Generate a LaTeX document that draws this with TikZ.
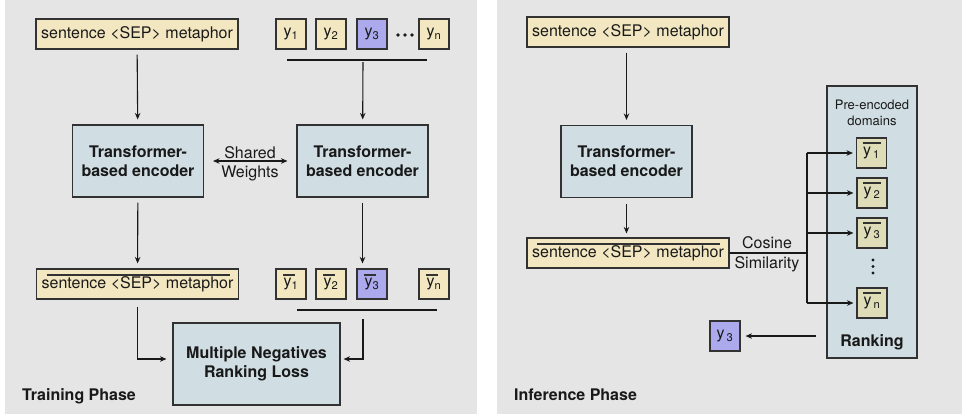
\documentclass[tikz,border=0pt]{standalone}
\usepackage{fontspec}
\setmainfont{TeX Gyre Heros}
\usetikzlibrary{arrows.meta}
\definecolor{panel}{RGB}{229,229,229}
\definecolor{beige}{RGB}{243,231,193}
\definecolor{bluegray}{RGB}{208,222,227}
\definecolor{lilac}{RGB}{172,170,236}
\definecolor{olive}{RGB}{222,221,184}
\definecolor{edge}{RGB}{50,50,50}
\definecolor{ink}{RGB}{25,25,25}
\begin{document}
\begin{tikzpicture}[x=1pt,y=-1pt,
  font=\fontsize{16}{19}\selectfont, text=ink,
  box/.style={draw=edge, line width=1.1pt, inner sep=0pt, align=center},
  textbox/.style={box, fill=beige, minimum width=202pt, minimum height=30pt},
  ybox/.style={box, fill=beige, minimum width=30pt, minimum height=30pt},
  pickbox/.style={ybox, fill=lilac},
  rbox/.style={ybox, fill=olive},
  encbox/.style={box, fill=bluegray, minimum width=131pt, minimum height=72pt, font=\fontsize{16}{19}\selectfont\bfseries},
  sbar/.style={path picture={\draw[edge, line width=1.1pt] ([xshift=10pt,yshift=-6pt]path picture bounding box.north west) -- ([xshift=-9pt,yshift=-6pt]path picture bounding box.north east);}},
  ybar/.style={path picture={\draw[edge, line width=1.1pt] ([xshift=7pt,yshift=-6pt]path picture bounding box.north west) -- ([xshift=-11pt,yshift=-6pt]path picture bounding box.north east);}},
  rbar/.style={path picture={\draw[edge, line width=1.1pt] ([xshift=6pt,yshift=-5pt]path picture bounding box.north west) -- ([xshift=-6pt,yshift=-5pt]path picture bounding box.north east);}},
  arr/.style={draw=ink, line width=1.1pt, -{Stealth[length=6.5pt,width=5.5pt]}, shorten <=5pt, shorten >=5pt},
  plain/.style={draw=ink, line width=1.2pt},
  lbl/.style={inner sep=0pt},
  phase/.style={inner sep=0pt, anchor=base west, font=\fontsize{16}{19}\selectfont\bfseries},
  dot/.style={fill=ink, draw=none}
]
\path[use as bounding box] (0,0) rectangle (962,416);
\fill[panel] (5,0) rectangle (477,414);
\fill[panel] (497,0) rectangle (962,414);

% ---------------- Training phase ----------------
\node[textbox] (s1) at (137,34) {sentence <SEP> metaphor};
\node[ybox] (ya1) at (291,34) {y\textsubscript{1}};
\node[ybox] (ya2) at (331,34) {y\textsubscript{2}};
\node[pickbox] (ya3) at (372,34) {y\textsubscript{3}};
\node[ybox] (yan) at (434,34) {y\textsubscript{n}};
\fill[dot] (398,35) circle (1.8) (405,35) circle (1.8) (412,35) circle (1.8);
\coordinate (la) at (287,60);
\coordinate (lb) at (427,60);
\coordinate (lm) at (363,60);
\draw[plain] (la) -- (lb);

\node[encbox] (enc1) at (138,161) {Transformer-\\based encoder};
\node[encbox] (enc2) at (362.5,161) {Transformer-\\based encoder};
\draw[arr] (s1) -- (enc1);
\draw[arr, shorten <=2pt] (lm) -- (enc2);
\draw[arr, {Stealth[length=6.5pt,width=5.5pt]}-{Stealth[length=6.5pt,width=5.5pt]}, shorten <=9pt, shorten >=9pt] (enc1) -- (enc2);
\node[lbl] (sh) at (250,153) {Shared};
\node[lbl] (wt) at (250,173) {Weights};

\node[textbox, sbar] (s2) at (137.5,284) {sentence <SEP> metaphor};
\node[ybox, ybar] (yb1) at (291,284) {y\textsubscript{1}};
\node[ybox, ybar] (yb2) at (331,284) {y\textsubscript{2}};
\node[pickbox, ybar] (yb3) at (372,284) {y\textsubscript{3}};
\node[ybox, ybar] (ybn) at (434,284) {y\textsubscript{n}};
\coordinate (lc) at (297,310);
\coordinate (ld) at (437,310);
\coordinate (lm2) at (363,310);
\draw[plain] (lc) -- (ld);
\draw[arr] (enc1) -- (s2);
\draw[arr] (enc2.south) -- (enc2.south |- yb3.north);

\node[encbox, minimum width=167pt, minimum height=82pt] (loss) at (256.5,364) {Multiple Negatives\\Ranking Loss};
\draw[arr, shorten <=7pt, shorten >=6pt] (s2.south) |- ([yshift=5pt]loss.west);
\draw[arr, shorten <=9pt, shorten >=3pt] (lm2) |- ([yshift=5pt]loss.east);
\node[phase] (tp) at (22,400) {Training Phase};

% ---------------- Inference phase ----------------
\node[textbox] (s3) at (628,32) {sentence <SEP> metaphor};
\node[encbox] (enc3) at (626.5,161.5) {Transformer-\\based encoder};
\draw[arr] (enc3.north |- s3.south) -- (enc3.north);
\node[textbox, sbar] (s4) at (628,253) {sentence <SEP> metaphor};
\draw[arr, shorten <=6pt, shorten >=4pt] (enc3.south) -- (enc3.south |- s4.north);

\node[box, fill=bluegray, minimum width=90pt, minimum height=272pt] (rank) at (872,222) {};
\node[lbl, font=\fontsize{13}{16}\selectfont, align=center] (pre) at (872,113) {Pre-encoded\\domains};
\node[lbl, font=\fontsize{16}{19}\selectfont\bfseries] (rk) at (872,342) {Ranking};
\node[rbox, rbar] (r1) at (871.5,153) {y\textsubscript{\,1}};
\node[rbox, rbar] (r2) at (872,193) {y\textsubscript{\,2}};
\node[rbox, rbar] (r3) at (872,233) {y\textsubscript{\,3}};
\node[rbox, rbar] (rn) at (872,303) {y\textsubscript{\,n}};
\fill[dot] (873,260) circle (1.6) (873,266.5) circle (1.6) (873,273) circle (1.6);

\coordinate (split) at (807,253);
\draw[plain] (s4.east) -- (split);
\node[lbl] (cos) at (767,243) {Cosine};
\node[lbl] (sim) at (767,264) {Similarity};
\draw[plain] (split |- r1.west) -- (split |- rn.west);
\draw[arr, shorten <=0pt, shorten >=3pt] (split |- r1.west) -- (r1.west);
\draw[arr, shorten <=0pt, shorten >=3pt] (split |- r2.west) -- (r2.west);
\draw[arr, shorten <=0pt, shorten >=3pt] (split |- r3.west) -- (r3.west);
\draw[arr, shorten <=0pt, shorten >=3pt] (split |- rn.west) -- (rn.west);

\node[pickbox] (res) at (725,336) {y\textsubscript{\,3}};
\draw[arr, shorten <=10pt, shorten >=5pt] (rank.west |- res.east) -- (res.east);
\node[phase] (ip) at (514,400) {Inference Phase};
\end{tikzpicture}
\end{document}
